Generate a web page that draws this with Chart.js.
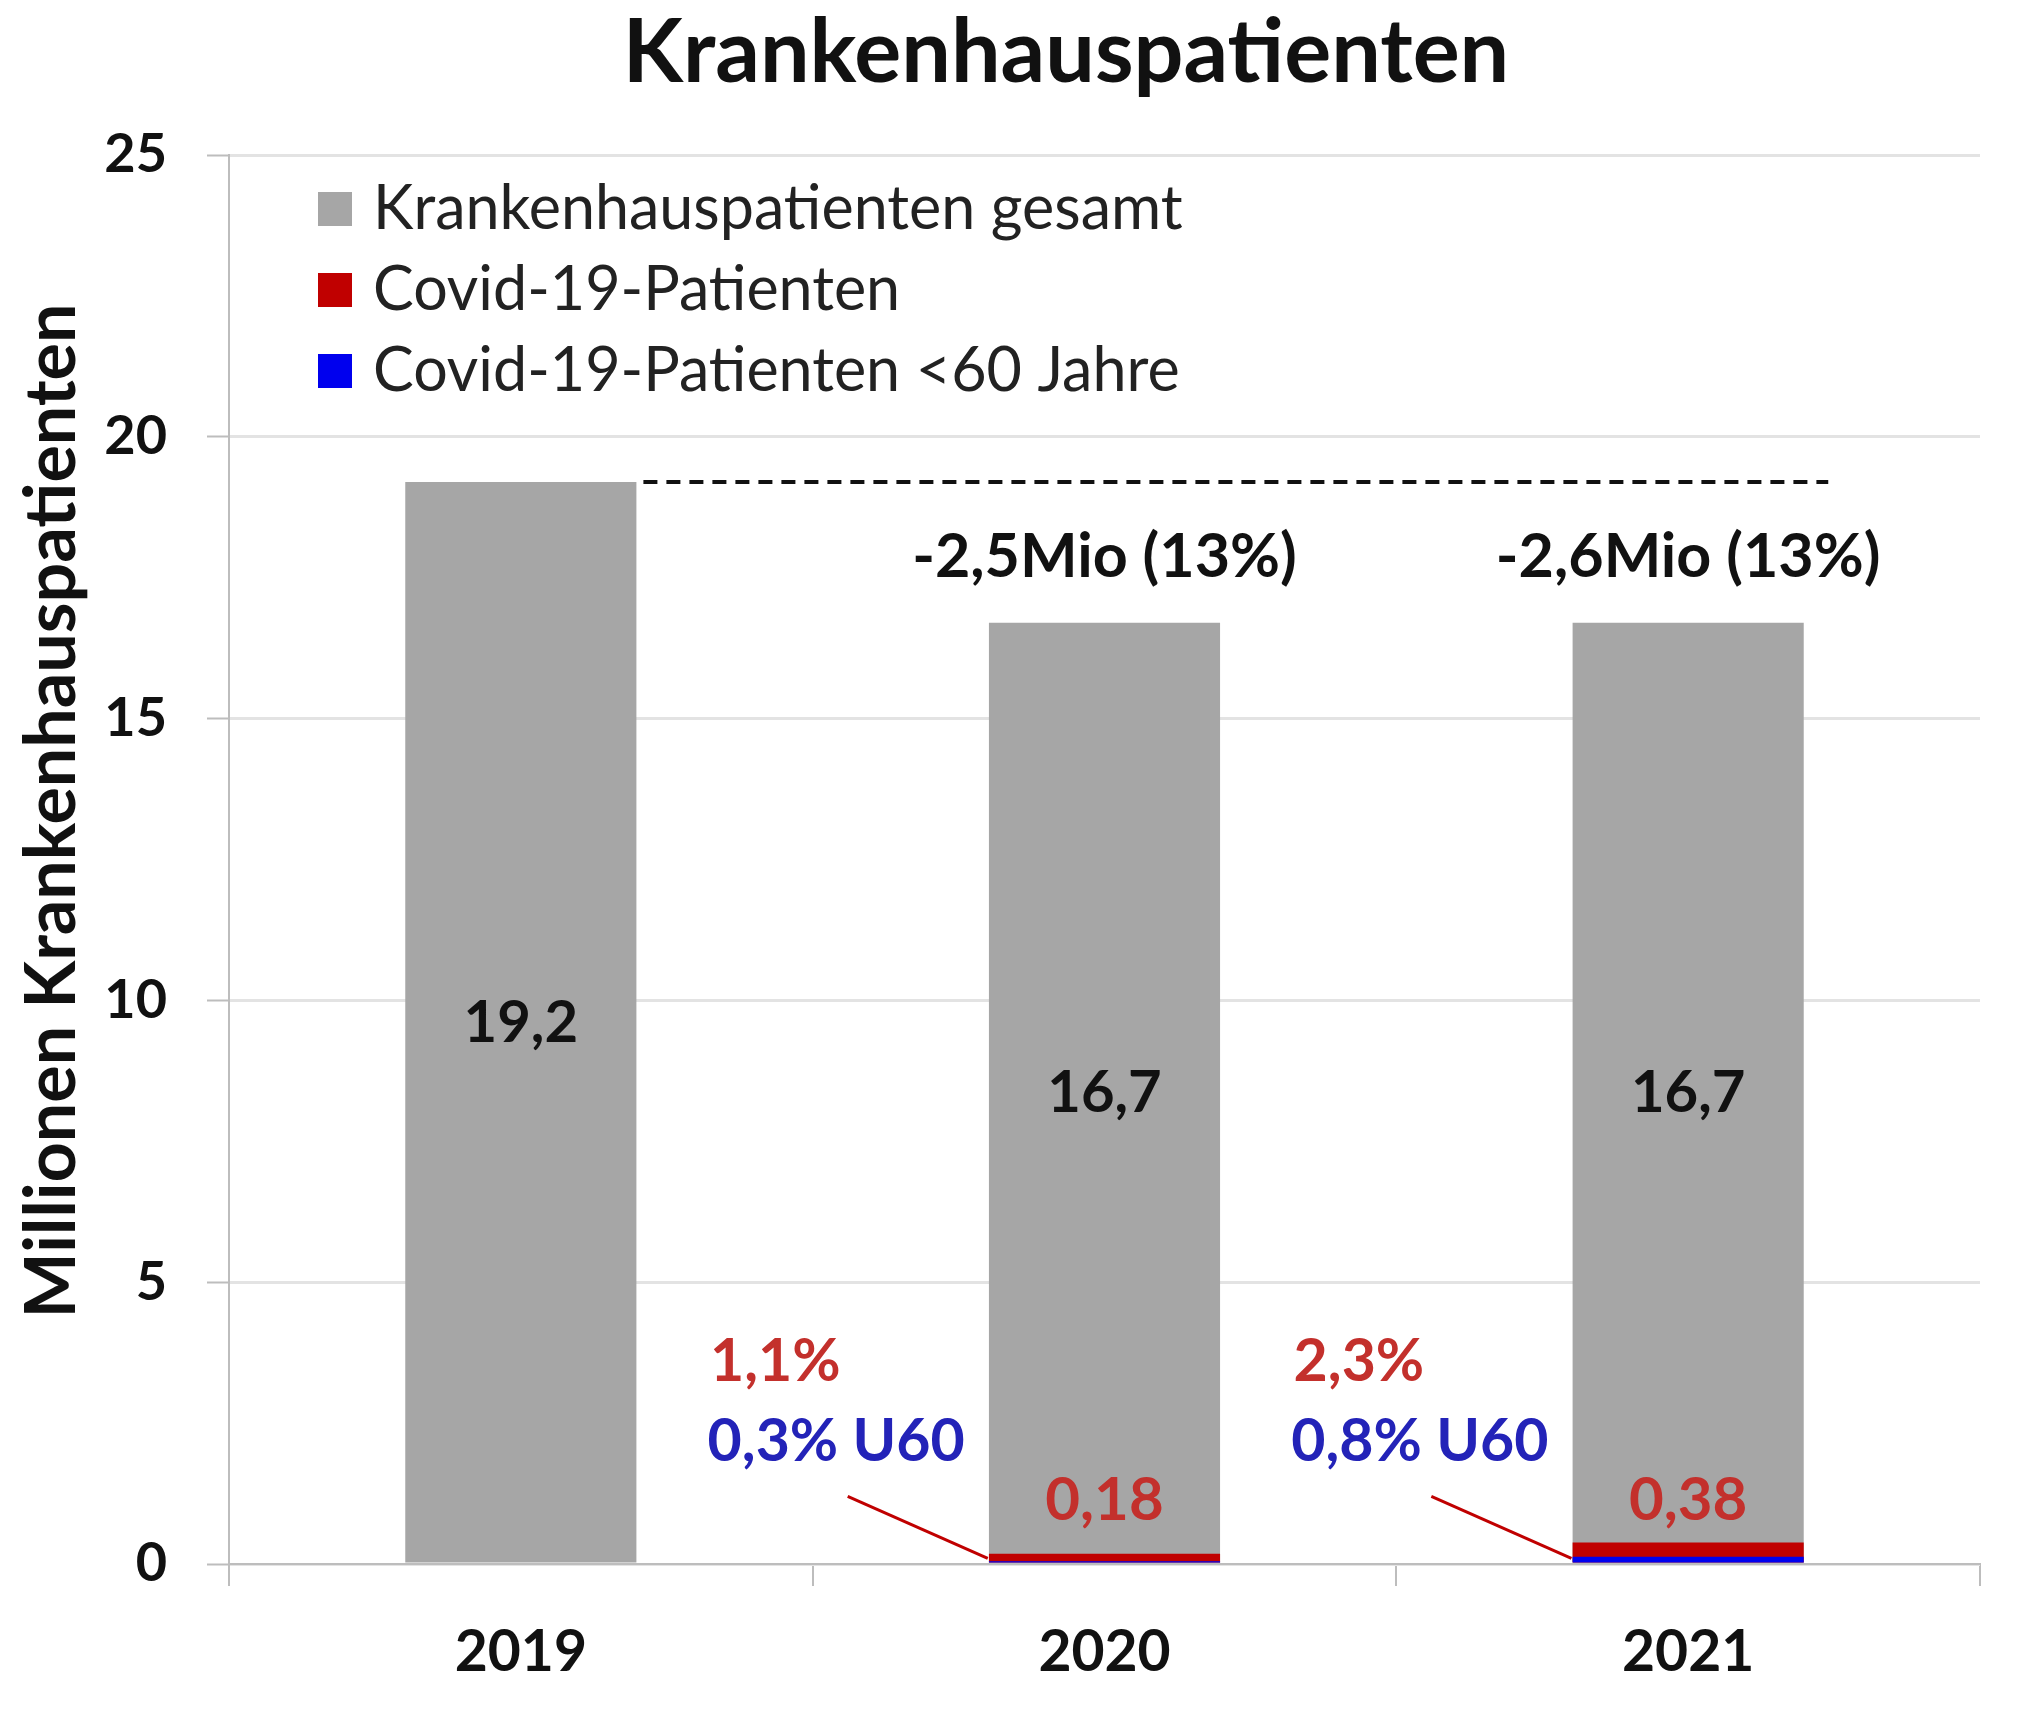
<!DOCTYPE html>
<html>
<head>
<meta charset="utf-8">
<script src="https://cdn.jsdelivr.net/npm/chart.js@4"></script>
<style>
  body { margin: 0; background: #fff; }
  #wrap { width: 2019px; height: 1711px; }
</style>
</head>
<body>
<div id="wrap"><canvas id="patientChart" width="2019" height="1711"></canvas></div>
<script>
const years = ['2019', '2020', '2021'];
const totalPatients = [19.2, 16.7, 16.7];
const covidPatients = [null, 0.18, 0.38];
const covidUnder60 = [null, 0.05, 0.13];
const yTicks = [0, 5, 10, 15, 20, 25];
const totalLabels = ['19,2', '16,7', '16,7'];
const diffLabels = ['', '-2,5Mio (13%)', '-2,6Mio (13%)'];
const covidLabels = ['', '0,18', '0,38'];
const covidShare = ['', '1,1%', '2,3%'];
const under60Share = ['', '0,3% U60', '0,8% U60'];

const FONT = 'Lato, "Open Sans", sans-serif';
const RED = '#c00000';
const RED_TEXT = '#c3302c';
const BLUE_TEXT = '#2323b8';

// title, sitting a bit left of the plot centre like the original
const topTitle = {
    id: 'topTitle',
    afterDraw(chart) {
        const c = chart.ctx;
        c.save();
        c.font = 'bold 88px ' + FONT;
        c.fillStyle = '#111';
        c.textAlign = 'center';
        c.textBaseline = 'middle';
        c.fillText('Krankenhauspatienten', 1066, 54);
        c.restore();
    }
};

// legend inside the plot, top left
const insideLegend = {
    id: 'insideLegend',
    afterDraw(chart) {
        const c = chart.ctx;
        c.save();
        c.font = '61px ' + FONT;
        c.textBaseline = 'middle';
        c.textAlign = 'left';
        chart.data.datasets.forEach((ds, i) => {
            const y = 209 + i * 81;
            c.fillStyle = ds.backgroundColor;
            c.fillRect(318, y - 17, 34, 34);
            c.fillStyle = '#222';
            c.fillText(ds.label, 373, y);
        });
        c.restore();
    }
};

// y axis title, notes and leader lines
const notes = {
    id: 'notes',
    afterDraw(chart) {
        const c = chart.ctx;
        const x = chart.scales.x, y = chart.scales.y;
        const cw = x.getPixelForValue(1) - x.getPixelForValue(0);
        c.save();

        c.save();
        c.translate(52, 811);
        c.rotate(-Math.PI / 2);
        c.font = 'bold 70px ' + FONT;
        c.fillStyle = '#111';
        c.textAlign = 'center';
        c.textBaseline = 'middle';
        c.fillText('Millionen Krankenhauspatienten', 0, 0);
        c.restore();

        // dashed reference line at the 2019 level
        c.strokeStyle = '#111';
        c.lineWidth = 4;
        c.setLineDash([14, 9]);
        c.beginPath();
        c.moveTo(x.getPixelForValue(0) + cw * 0.21, y.getPixelForValue(totalPatients[0]));
        c.lineTo(x.getPixelForValue(2) + cw * 0.24, y.getPixelForValue(totalPatients[0]));
        c.stroke();
        c.setLineDash([]);

        c.textBaseline = 'middle';
        years.forEach((yr, i) => {
            const px = x.getPixelForValue(i);
            c.textAlign = 'center';
            c.font = 'bold 58px ' + FONT;
            c.fillStyle = '#111';
            c.fillText(totalLabels[i], px, y.getPixelForValue(totalPatients[i] / 2));
            if (!diffLabels[i]) return;
            c.font = 'bold 61px ' + FONT;
            c.fillText(diffLabels[i], px, y.getPixelForValue(17.87));
            c.font = 'bold 60px ' + FONT;
            c.fillStyle = RED_TEXT;
            c.fillText(covidLabels[i], px, y.getPixelForValue(1.12));
            c.textAlign = 'left';
            c.font = 'bold 59px ' + FONT;
            c.fillText(covidShare[i], px - cw * 0.676, y.getPixelForValue(3.58));
            c.fillStyle = BLUE_TEXT;
            c.fillText(under60Share[i], px - cw * 0.68, y.getPixelForValue(2.16));

            c.strokeStyle = RED;
            c.lineWidth = 3;
            c.beginPath();
            c.moveTo(px - cw * 0.44, y.getPixelForValue(1.2));
            c.lineTo(px - cw * 0.2, y.getPixelForValue(0.1));
            c.stroke();
        });
        c.restore();
    }
};

const ctx = document.getElementById('patientChart').getContext('2d');

const patientChart = new Chart(ctx, {
    type: 'bar',
    data: {
        labels: years,
        datasets: [
            { label: 'Krankenhauspatienten gesamt', data: totalPatients, backgroundColor: '#a6a6a6', order: 3 },
            { label: 'Covid-19-Patienten', data: covidPatients, backgroundColor: RED, order: 2 },
            { label: 'Covid-19-Patienten <60 Jahre', data: covidUnder60, backgroundColor: '#0000ee', order: 1 }
        ]
    },
    options: {
        responsive: false,
        animation: false,
        layout: { padding: { left: 0, right: 39, top: 155, bottom: 0 } },
        datasets: { bar: { categoryPercentage: 1, barPercentage: 0.396 } },
        plugins: {
            legend: { display: false },
            tooltip: { enabled: false },
            title: { display: false }
        },
        scales: {
            x: {
                stacked: true,
                afterFit: (s) => { s.height = 147; },
                grid: { offset: true, drawOnChartArea: false, tickLength: 22, color: '#bdbdbd', lineWidth: 2 },
                border: { color: '#bdbdbd', width: 2 },
                ticks: { color: '#111', padding: 32, font: { family: FONT, size: 57, weight: 'bold' } }
            },
            y: {
                stacked: false,
                min: 0,
                max: 25,
                afterFit: (s) => { s.width = 229; },
                afterBuildTicks: (s) => { s.ticks = yTicks.map(v => ({ value: v })); },
                grid: { color: '#e3e3e3', lineWidth: 3, tickLength: 22, tickColor: '#bdbdbd', tickWidth: 2 },
                border: { color: '#bdbdbd', width: 2 },
                ticks: { color: '#111', padding: 40, font: { family: FONT, size: 54, weight: 'bold' } }
            }
        }
    },
    plugins: [topTitle, insideLegend, notes]
});
</script>
</body>
</html>
